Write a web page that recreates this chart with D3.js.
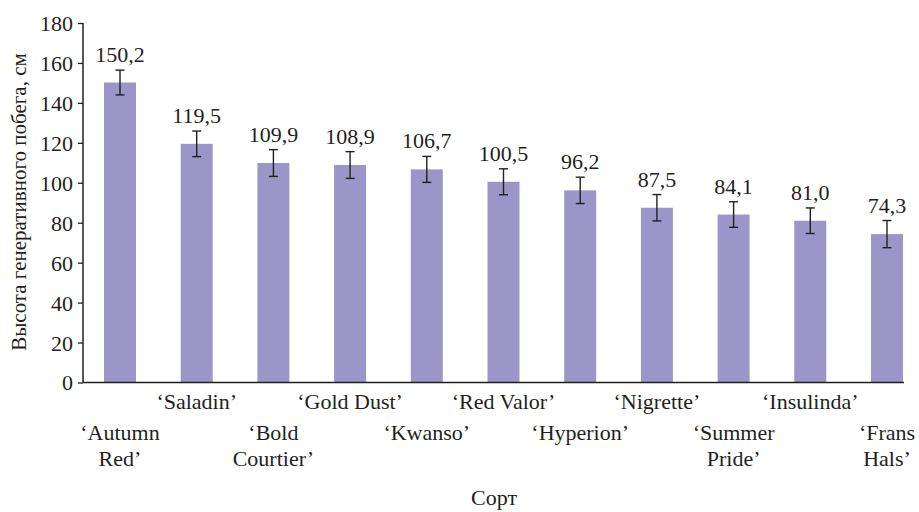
<!DOCTYPE html>
<html><head><meta charset="utf-8">
<script src="https://cdn.jsdelivr.net/npm/d3@7"></script>
</head><body style="margin:0;background:#fff">
<svg id="c" width="919" height="512" font-family="'Times New Roman', Tinos, 'Liberation Serif', serif"></svg>
<script>
const categories = [["‘Autumn","Red’"],["‘Saladin’"],["‘Bold","Courtier’"],["‘Gold Dust’"],["‘Kwanso’"],["‘Red Valor’"],["‘Hyperion’"],["‘Nigrette’"],["‘Summer","Pride’"],["‘Insulinda’"],["‘Frans","Hals’"]];
const values = [150.2,119.5,109.9,108.9,106.7,100.5,96.2,87.5,84.1,81.0,74.3];
const errors = [6.2,6.4,6.7,6.7,6.5,6.5,6.6,6.6,6.4,6.4,6.8];
const valueLabels = ["150,2","119,5","109,9","108,9","106,7","100,5","96,2","87,5","84,1","81,0","74,3"];
const yTicks = [0,20,40,60,80,100,120,140,160,180];
const yTitle = "Высота генеративного побега, см";
const xTitle = "Сорт";

const FONT = "'Times New Roman', Tinos, 'Liberation Serif', serif";
const svg = d3.select("#c");
const y = d3.scaleLinear().domain([0,180]).range([382.5,23]);
const x = d3.scaleBand().domain(d3.range(values.length)).range([83,924]).paddingInner(0.583).paddingOuter(0.274);
const col = "#9b95c8", ink = "#231f20";

svg.selectAll("rect.bar").data(values).join("rect")
  .attr("x",(d,i)=>x(i)).attr("width",x.bandwidth())
  .attr("y",d=>y(d)).attr("height",d=>y(0)-y(d)).attr("fill",col);

const eb = svg.selectAll("g.eb").data(values).join("g").attr("stroke",ink).attr("stroke-width",1.4);
eb.append("line").attr("x1",(d,i)=>x(i)+x.bandwidth()/2).attr("x2",(d,i)=>x(i)+x.bandwidth()/2)
  .attr("y1",(d,i)=>y(d+errors[i])).attr("y2",(d,i)=>y(d-errors[i]));
eb.append("line").attr("x1",(d,i)=>x(i)+x.bandwidth()/2-4.5).attr("x2",(d,i)=>x(i)+x.bandwidth()/2+4.5)
  .attr("y1",(d,i)=>y(d+errors[i])).attr("y2",(d,i)=>y(d+errors[i]));
eb.append("line").attr("x1",(d,i)=>x(i)+x.bandwidth()/2-4.5).attr("x2",(d,i)=>x(i)+x.bandwidth()/2+4.5)
  .attr("y1",(d,i)=>y(d-errors[i])).attr("y2",(d,i)=>y(d-errors[i]));

svg.selectAll("text.vl").data(values).join("text")
  .attr("x",(d,i)=>x(i)+x.bandwidth()/2).attr("y",(d,i)=>y(d+errors[i])-8)
  .attr("text-anchor","middle").attr("font-size",22).text((d,i)=>valueLabels[i]);

const yAxis = d3.axisLeft(y).tickValues(yTicks).tickSize(5).tickPadding(5).tickFormat(d3.format("d"));
const ga = svg.append("g").attr("transform","translate(83,0)").call(yAxis);
ga.attr("font-family",FONT);
ga.select(".domain").remove();
ga.selectAll(".tick line").attr("stroke",ink).attr("stroke-width",1.3);
ga.selectAll(".tick text").attr("font-size",22).attr("dy","0.34em");
svg.append("line").attr("x1",83).attr("x2",83).attr("y1",y(180)).attr("y2",y(0)).attr("stroke",ink).attr("stroke-width",1.5);
svg.append("line").attr("x1",83).attr("x2",904).attr("y1",y(0)).attr("y2",y(0)).attr("stroke",ink).attr("stroke-width",1.5);

categories.forEach((lines,i)=>{
  const cx = x(i)+x.bandwidth()/2;
  const baseY = (i%2===1) ? 409 : 440;
  const t = svg.append("text").attr("text-anchor","middle").attr("font-size",22);
  lines.forEach((s,k)=>t.append("tspan").attr("x",cx).attr("y",baseY+k*26).text(s));
});

svg.append("text").attr("x",494).attr("y",505).attr("text-anchor","middle").attr("font-size",22).text(xTitle);
svg.append("text").attr("transform","translate(26,202) rotate(-90)").attr("text-anchor","middle").attr("font-size",21).text(yTitle);

svg.selectAll("text").attr("font-family",FONT).attr("fill",ink);
</script>
</body></html>
